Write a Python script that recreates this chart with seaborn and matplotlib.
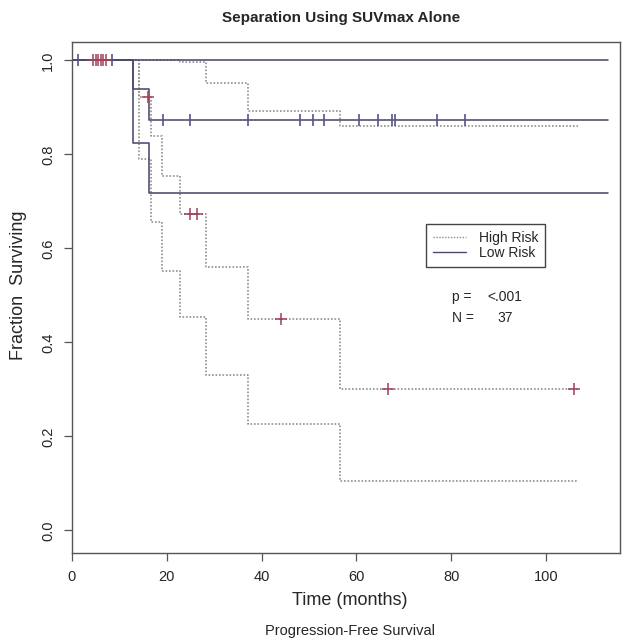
#Importing header files
import numpy as np
import pandas as pd
import matplotlib
matplotlib.use('Agg')
import matplotlib.pyplot as plt
import seaborn as sns
from matplotlib.lines import Line2D

#Step curves (time in months, fraction surviving)
high_t = [0, 14.1, 16.6, 18.9, 22.8, 28.2, 37.1, 56.5, 106.8]
high_est = [1.0, 0.923, 0.84, 0.755, 0.674, 0.56, 0.45, 0.30, 0.30]
high_lower = [1.0, 0.79, 0.657, 0.551, 0.455, 0.33, 0.227, 0.106, 0.106]
high_upper = [1.0, 1.0, 1.0, 1.0, 0.996, 0.952, 0.892, 0.86, 0.86]

low_t = [0, 12.8, 16.3, 113]
low_est = [1.0, 0.938, 0.872, 0.872]
low_lower = [1.0, 0.825, 0.718, 0.718]
low_upper = [1.0, 1.0, 1.0, 1.0]

#Censored observations
high_cens_t = [4.5, 5.0, 5.5, 6.1, 6.6, 7.2, 16.1, 24.9, 26.3, 44.0, 66.7, 106.0]
high_cens_s = [1.0, 1.0, 1.0, 1.0, 1.0, 1.0, 0.923, 0.674, 0.674, 0.45, 0.30, 0.30]
low_cens_t = [1.3, 8.4, 19.1, 24.8, 37.1, 48.1, 50.8, 53.2, 60.5, 64.5, 67.5, 68.2, 77.0, 82.8]
low_cens_s = [1.0, 1.0] + [0.872] * 12

x_ticks = [0, 20, 40, 60, 80, 100]
y_ticks = [0.0, 0.2, 0.4, 0.6, 0.8, 1.0]

#Colours
high_col = '#8f8f8f'
low_col = '#4a4a6e'
high_cens_col = '#a0405a'
low_cens_col = '#55558a'

#Setting the style, then the font list
sns.set_style('ticks')
plt.rcParams['font.family'] = ['Liberation Sans', 'DejaVu Sans']

fig = plt.figure(figsize=(6.25, 6.42), dpi=100)
ax = fig.add_axes([0.1152, 0.1386, 0.8768, 0.796])

#Drawing the dotted (high risk) curves
for s in [high_upper, high_est, high_lower]:
    df = pd.DataFrame({'t': high_t, 's': s})
    sns.lineplot(data=df, x='t', y='s', ax=ax, estimator=None, sort=False,
                 drawstyle='steps-post', color=high_col, linestyle=(0, (1, 1.1)),
                 linewidth=1.2)

#Drawing the solid (low risk) curves
for s in [low_upper, low_est, low_lower]:
    df = pd.DataFrame({'t': low_t, 's': s})
    sns.lineplot(data=df, x='t', y='s', ax=ax, estimator=None, sort=False,
                 drawstyle='steps-post', color=low_col, linewidth=1.15)

#Censor marks
sns.scatterplot(x=high_cens_t, y=high_cens_s, ax=ax, marker='+', s=65,
                color=high_cens_col, linewidth=1.1, zorder=5)
sns.scatterplot(x=low_cens_t, y=low_cens_s, ax=ax, marker='|', s=85,
                color=low_cens_col, linewidth=1.2, zorder=5)

#Axes limits and ticks
ax.set_xlim(0, 115.6)
ax.set_ylim(-0.048, 1.039)
ax.set_xticks(x_ticks)
ax.set_yticks(y_ticks)
ax.set_xticklabels([str(v) for v in x_ticks], fontsize=10.5)
ax.set_yticklabels(['%.1f' % v for v in y_ticks], fontsize=10.5, rotation=90, va='center')
ax.tick_params(direction='out', length=6, width=0.9, color='#555555', pad=6)
for sp in ax.spines.values():
    sp.set_color('#555555')
    sp.set_linewidth(1.0)
ax.set_xlabel('')
ax.set_ylabel('')

#Titles and labels
fig.text(0.545, 0.972, 'Separation Using SUVmax Alone', ha='center', va='center',
         fontsize=11, fontweight='bold')
fig.text(0.56, 0.065, 'Time (months)', ha='center', va='center', fontsize=13)
fig.text(0.56, 0.017, 'Progression-Free Survival', ha='center', va='center', fontsize=10.5)
fig.text(0.029, 0.555, 'Fraction  Surviving', ha='center', va='center', fontsize=13, rotation=90)

#Legend
handles = [Line2D([], [], color=high_col, linestyle=(0, (1, 1.1)), linewidth=1.0),
           Line2D([], [], color=low_col, linewidth=1.0)]
leg = ax.legend(handles, ['High Risk', 'Low Risk'], loc='upper left',
                bbox_to_anchor=(426 / 625, 1 - 224 / 642), bbox_transform=fig.transFigure,
                borderaxespad=0, fancybox=False, framealpha=1, edgecolor='#444444',
                fontsize=10, handlelength=2.4, handletextpad=0.9, labelspacing=0.1,
                borderpad=0.5)
leg.get_frame().set_linewidth(1.0)

#p value and N
fig.text(452 / 625, 1 - 297 / 642, 'p =', ha='left', va='center', fontsize=10)
fig.text(487 / 625, 1 - 297 / 642, '<.001', ha='left', va='center', fontsize=10)
fig.text(452 / 625, 1 - 318 / 642, 'N =', ha='left', va='center', fontsize=10)
fig.text(497 / 625, 1 - 318 / 642, '37', ha='left', va='center', fontsize=10)

plt.savefig('out.png', dpi=100)
